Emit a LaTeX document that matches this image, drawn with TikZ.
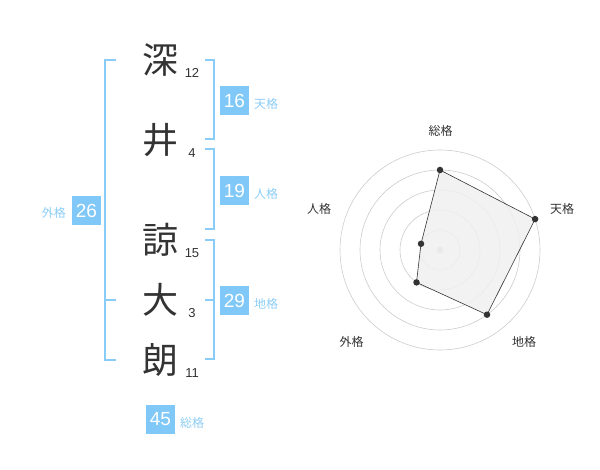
\documentclass[tikz,border=0pt]{standalone}
\usepackage{fontspec}
\setmainfont{Noto Sans CJK JP}
\newfontfamily\digitfont{Liberation Sans}
\definecolor{bracketblue}{HTML}{88CCF7}
\definecolor{boxblue}{HTML}{80C8F8}
\definecolor{labelblue}{HTML}{8CCDF5}
\definecolor{inkdark}{HTML}{333333}
\definecolor{ringgray}{HTML}{CCCCCC}
\definecolor{polyfill}{HTML}{F0F0F0}
\begin{document}
\begin{tikzpicture}[x=1pt,y=-1pt,
  kanji/.style={font=\fontsize{36}{36}\selectfont, text=inkdark, inner sep=0pt},
  strokes/.style={font=\digitfont\fontsize{13}{13}\selectfont, text=inkdark, inner sep=0pt},
  scorebox/.style={fill=boxblue, text=white, minimum size=29pt, inner sep=0pt, font=\digitfont\fontsize{19}{19}\selectfont},
  kaku/.style={font=\fontsize{12}{12}\selectfont, text=labelblue, inner sep=0pt},
  brk/.style={draw=bracketblue, line width=1.6pt},
  ring/.style={draw=ringgray, line width=0.6pt},
  axlabel/.style={font=\fontsize{12}{12}\selectfont, text=inkdark, inner sep=0pt},
  vdot/.style={circle, fill=inkdark, inner sep=0pt, minimum size=6.5pt}]
\useasboundingbox (0,0) rectangle (600,470);
% characters
\node[kanji] (k1) at (160,60) {深};
\node[kanji] (k2) at (160,140) {井};
\node[kanji] (k3) at (160,240) {諒};
\node[kanji] (k4) at (160,300) {大};
\node[kanji] (k5) at (160,360) {朗};
\node[strokes] (s1) at (192,73) {12};
\node[strokes] (s2) at (192,153) {4};
\node[strokes] (s3) at (192,253) {15};
\node[strokes] (s4) at (192,313) {3};
\node[strokes] (s5) at (192,373) {11};
% left bracket (gaikaku)
\draw[brk] (116,60) -- (105,60) -- (105,360) -- (116,360);
\draw[brk] (105,300) -- (116,300);
% right brackets
\draw[brk] (205,60) -- (214,60) -- (214,139) -- (205,139);
\draw[brk] (205,149) -- (214,149) -- (214,229) -- (205,229);
\draw[brk] (205,240) -- (214,240) -- (214,359) -- (205,359);
\draw[brk] (205,300) -- (214,300);
% score boxes
\node[scorebox] (b1) at (234.5,100.5) {16};
\node[kaku, anchor=west] (l1) at (254,104) {天格};
\node[scorebox] (b2) at (234.5,190.5) {19};
\node[kaku, anchor=west] (l2) at (254,194) {人格};
\node[scorebox] (b3) at (234.5,300.5) {29};
\node[kaku, anchor=west] (l3) at (254,304) {地格};
\node[scorebox] (b4) at (86.5,210.5) {26};
\node[kaku, anchor=east] (l4) at (66,213) {外格};
\node[scorebox] (b5) at (160.5,419.5) {45};
\node[kaku, anchor=west] (l5) at (180,423) {総格};
% radar chart
\coordinate (c) at (440,250);
\foreach \r in {20,40,60,80,100} \draw[ring] (c) circle[radius=\r pt];
\fill[ringgray] (c) circle[radius=3.5pt];
\coordinate (p1) at (440,170);
\coordinate (p2) at (535.1,219.1);
\coordinate (p3) at (487.0,314.7);
\coordinate (p4) at (416.5,282.4);
\coordinate (p5) at (421.0,243.8);
\filldraw[fill=polyfill, fill opacity=0.85, draw=inkdark, line width=0.6pt] (p1) -- (p2) -- (p3) -- (p4) -- (p5) -- cycle;
\foreach \p in {p1,p2,p3,p4,p5} \node[vdot] at (\p) {};
\node[axlabel] (a1) at (440.7,130.5) {総格};
\node[axlabel] (a2) at (562,209) {天格};
\node[axlabel] (a3) at (319,209) {人格};
\node[axlabel] (a4) at (351.7,342) {外格};
\node[axlabel] (a5) at (524,342) {地格};
\end{tikzpicture}
\end{document}
